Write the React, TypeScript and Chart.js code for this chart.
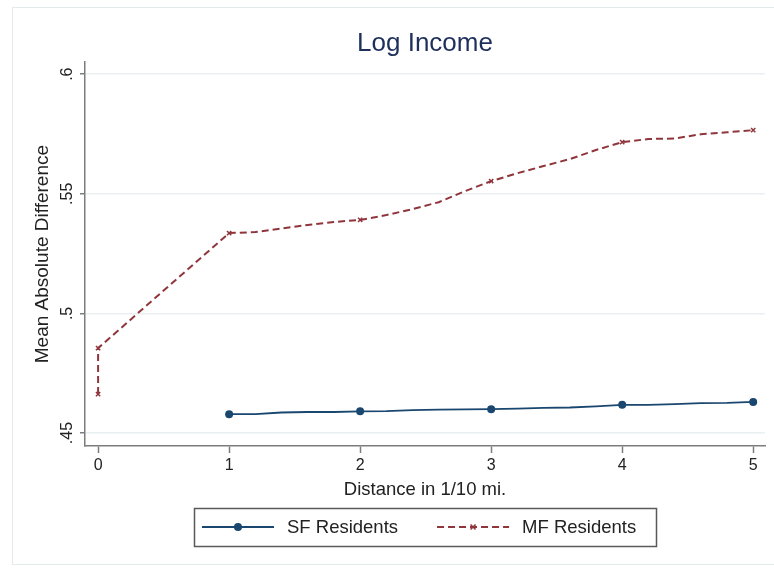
import React, { useEffect, useRef } from "react";
import { Chart, registerables } from "chart.js";

Chart.register(...registerables);

const TITLE = "Log Income";
const X_TITLE = "Distance in 1/10 mi.";
const Y_TITLE = "Mean Absolute Difference";

const SF_LABEL = "SF Residents";
const SF_X = [1, 1.2, 1.4, 1.6, 1.8, 2, 2.2, 2.4, 2.6, 2.8, 3, 3.2, 3.4, 3.6, 3.8, 4, 4.2, 4.4, 4.6, 4.8, 5];
const SF_Y = [0.4579, 0.4579, 0.4586, 0.4588, 0.4588, 0.4591, 0.4592, 0.4596, 0.4598, 0.4599, 0.46, 0.4602, 0.4605, 0.4607, 0.4612, 0.4618, 0.4618, 0.4621, 0.4625, 0.4626, 0.463];

const MF_LABEL = "MF Residents";
const MF_X = [0, 0, 1, 1.2, 1.4, 1.6, 1.8, 2, 2.2, 2.4, 2.6, 2.8, 3, 3.2, 3.4, 3.6, 3.8, 4, 4.2, 4.4, 4.6, 4.8, 5];
const MF_Y = [0.4663, 0.4855, 0.5336, 0.534, 0.5355, 0.537, 0.5382, 0.5391, 0.5411, 0.5436, 0.5465, 0.5511, 0.5553, 0.5586, 0.5616, 0.5645, 0.5683, 0.5716, 0.5729, 0.5731, 0.5749, 0.5757, 0.5766];

const Y_TICKS = [0.45, 0.5, 0.55, 0.6];
const X_TICKS = [0, 1, 2, 3, 4, 5];

const FONT = '"Liberation Sans", Arial, Helvetica, sans-serif';
const SF_COLOR = "#1a476f";
const MF_COLOR = "#90353b";
const AXIS_COLOR = "#7d7d7d";
const TEXT_COLOR = "#222222";

const fmtY = (v: number) => {
  let s = Number(v).toFixed(2).replace(/0+$/, "").replace(/\.$/, "");
  return s.replace(/^0\./, ".");
};

const frameAndBg = {
  id: "frameAndBg",
  beforeDraw(chart: any) {
    const ctx = chart.ctx;
    ctx.save();
    ctx.fillStyle = "#ffffff";
    ctx.fillRect(0, 0, chart.width, chart.height);
    ctx.strokeStyle = "#e3eaec";
    ctx.lineWidth = 1;
    ctx.strokeRect(12.5, 7.5, chart.width + 10, chart.height - 13);
    ctx.restore();
  },
};

const stataLegend = {
  id: "stataLegend",
  afterDraw(chart: any) {
    const ctx = chart.ctx;
    const area = chart.chartArea;
    const cx = (area.left + area.right) / 2;
    ctx.save();
    ctx.font = `18.5px ${FONT}`;
    const sampleW = 72;
    const gapSample = 13;
    const gapItem = 39;
    const padL = 8;
    const padR = 20;
    const items = chart.data.datasets.map((ds: any) => ({ ds, w: ctx.measureText(ds.label).width }));
    const total =
      padL + padR + items.reduce((s: number, it: any) => s + sampleW + gapSample + it.w, 0) + gapItem * (items.length - 1);
    const top = chart.height - 62;
    const h = 38;
    const left = Math.round(cx - total / 2);
    ctx.strokeStyle = "#5a5a5a";
    ctx.lineWidth = 1.5;
    ctx.strokeRect(left + 0.5, top + 0.5, Math.round(total), h);
    const cy = top + h / 2;
    let x = left + padL;
    items.forEach((it: any) => {
      const ds = it.ds;
      ctx.save();
      ctx.strokeStyle = ds.borderColor;
      ctx.lineWidth = ds.borderWidth;
      ctx.setLineDash(ds.borderDash || []);
      ctx.beginPath();
      ctx.moveTo(x, cy);
      ctx.lineTo(x + sampleW, cy);
      ctx.stroke();
      ctx.setLineDash([]);
      const mx = x + sampleW / 2;
      if (ds.pointStyle === "circle") {
        ctx.fillStyle = ds.borderColor;
        ctx.beginPath();
        ctx.arc(mx, cy, 4, 0, Math.PI * 2);
        ctx.fill();
      } else {
        ctx.lineWidth = 1.5;
        ctx.beginPath();
        ctx.moveTo(mx - 2.5, cy - 2.5);
        ctx.lineTo(mx + 2.5, cy + 2.5);
        ctx.moveTo(mx + 2.5, cy - 2.5);
        ctx.lineTo(mx - 2.5, cy + 2.5);
        ctx.stroke();
      }
      ctx.restore();
      x += sampleW + gapSample;
      ctx.fillStyle = TEXT_COLOR;
      ctx.textBaseline = "middle";
      ctx.textAlign = "left";
      ctx.fillText(ds.label, x, cy + 1);
      x += it.w + gapItem;
    });
    ctx.restore();
  },
};

export default function App() {
  const ref = useRef<HTMLCanvasElement | null>(null);

  useEffect(() => {
    if (!ref.current) return;
    const markerAtInteger = (c: any, r: number) => {
      const raw = c.raw;
      return raw && Number.isInteger(raw.x) ? r : 0;
    };
    const chart = new Chart(ref.current, {
      type: "line",
      data: {
        datasets: [
          {
            label: SF_LABEL,
            data: SF_X.map((x, i) => ({ x, y: SF_Y[i] })),
            borderColor: SF_COLOR,
            backgroundColor: SF_COLOR,
            borderWidth: 1.8,
            pointStyle: "circle",
            pointRadius: (c: any) => markerAtInteger(c, 4),
            pointBorderWidth: 0,
            tension: 0,
          },
          {
            label: MF_LABEL,
            data: MF_X.map((x, i) => ({ x, y: MF_Y[i] })),
            borderColor: MF_COLOR,
            backgroundColor: MF_COLOR,
            borderWidth: 2,
            borderDash: [7, 4],
            pointStyle: "crossRot",
            pointRadius: (c: any) => markerAtInteger(c, 3),
            pointBorderWidth: 1.5,
            tension: 0,
          },
        ],
      },
      options: {
        animation: false,
        responsive: true,
        maintainAspectRatio: false,
        layout: { padding: { left: 0, right: 9, top: 0, bottom: 69 } },
        plugins: {
          legend: { display: false },
          tooltip: { enabled: false },
          title: {
            display: true,
            text: TITLE,
            fullSize: false,
            color: "#1e2f5c",
            font: { family: FONT, size: 26, weight: "normal" },
            padding: { top: 28, bottom: 3 },
          },
        },
        scales: {
          x: {
            type: "linear",
            min: -0.1,
            max: 5.09,
            afterFit: (s: any) => {
              s.height = 55;
            },
            afterBuildTicks: (s: any) => {
              s.ticks = X_TICKS.map((v) => ({ value: v }));
            },
            ticks: {
              includeBounds: false,
              color: TEXT_COLOR,
              font: { family: FONT, size: 16 },
              padding: 3,
              maxRotation: 0,
              callback: (v: any) => String(v),
            },
            grid: {
              display: true,
              drawOnChartArea: false,
              drawTicks: true,
              tickLength: 7,
              tickColor: AXIS_COLOR,
              tickWidth: 1.5,
            },
            border: { display: true, color: AXIS_COLOR, width: 1.5 },
            title: {
              display: true,
              text: X_TITLE,
              color: TEXT_COLOR,
              font: { family: FONT, size: 18.5 },
              padding: { top: 0, bottom: 0 },
            },
          },
          y: {
            type: "linear",
            min: 0.4446,
            max: 0.605,
            afterFit: (s: any) => {
              s.width = 85;
            },
            afterBuildTicks: (s: any) => {
              s.ticks = Y_TICKS.map((v) => ({ value: v }));
            },
            ticks: {
              includeBounds: false,
              color: TEXT_COLOR,
              font: { family: FONT, size: 16 },
              padding: 1,
              minRotation: 90,
              maxRotation: 90,
              crossAlign: "center",
              callback: (v: any) => fmtY(v),
            },
            grid: {
              display: true,
              drawOnChartArea: true,
              color: "#e8f0f1",
              lineWidth: 1.5,
              drawTicks: true,
              tickLength: 5,
              tickColor: AXIS_COLOR,
              tickWidth: 1.5,
            },
            border: { display: true, color: AXIS_COLOR, width: 1.5 },
            title: {
              display: true,
              text: Y_TITLE,
              color: TEXT_COLOR,
              font: { family: FONT, size: 19 },
              padding: { top: 31, bottom: 0 },
            },
          },
        },
      },
      plugins: [frameAndBg, stataLegend],
    });
    return () => chart.destroy();
  }, []);

  return (
    <div style={{ position: "absolute", left: 0, top: 0, width: 774, height: 570 }}>
      <canvas ref={ref} />
    </div>
  );
}
